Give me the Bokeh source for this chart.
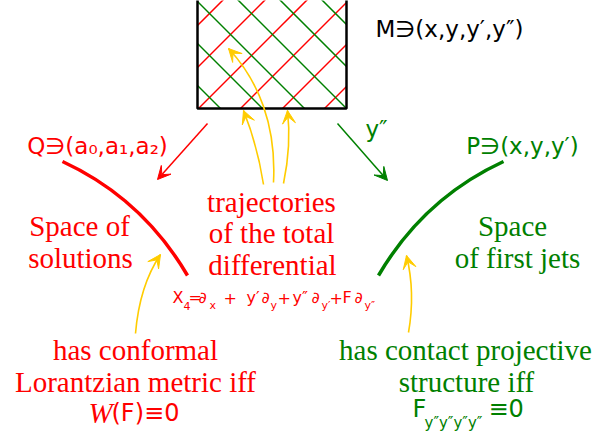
import math
from bokeh.plotting import figure
from bokeh.models import Range1d, Arrow, VeeHead
from bokeh.core.properties import value
from bokeh.embed import file_html
from bokeh.resources import INLINE

RED = "#FF0000"
GREEN = "#008000"
YELLOW = "#FFCC00"
SERIF = "Liberation Serif"
SANS = "DejaVu Sans"

# ---- diagram geometry (reference pixel coordinates, y downwards) ----
box_left, box_right, box_top, box_bottom = 197, 346, -41, 108
red_hatch_c = [180, 222, 264, 306, 348, 390, 432]     # red lines  x + y = c
green_hatch_d = [112, 154, 196, 238, 280, 322, 364]   # green lines x - y = d

# solution / jet curves (quadratic)
arc_x0 = [62, 503]
arc_y0 = [161, 161]
arc_x1 = [187, 378]
arc_y1 = [275, 275]
arc_cx = [142, 423]
arc_cy = [198, 198]
arc_colors = [RED, GREEN]

# projection arrows
proj_x0 = [207, 337]
proj_y0 = [123, 123]
proj_x1 = [157, 387]
proj_y1 = [179, 180]
proj_colors = [RED, GREEN]

# yellow pointer arrows (quadratic)
yq_x0 = [135, 408, 263, 283]
yq_y0 = [333, 332, 184, 183]
yq_x1 = [160, 406, 243, 287]
yq_y1 = [254, 255, 110, 110]
yq_cx = [139, 415, 257, 291]
yq_cy = [285, 292, 145, 145]
# yellow pointer arrow (cubic)
yc_x0, yc_y0, yc_x1, yc_y1 = 273, 182, 228, 48
yc_cx0, yc_cy0, yc_cx1, yc_cy1 = 276, 125, 258, 80

# ---- texts ----
serif_texts = ["Space of", "solutions",
               "trajectories", "of the total", "differential",
               "Space", "of first jets",
               "has conformal", "Lorantzian metric iff",
               "has contact projective", "structure iff"]
serif_x = [79, 80, 271, 271, 272, 512, 517, 135, 135, 465, 466]
serif_y = [225, 257, 201, 232, 264, 225, 257, 349, 381, 349, 381]
serif_colors = [RED, RED, RED, RED, RED, GREEN, GREEN, RED, RED, GREEN, GREEN]

sans_texts = ["M\u220b(x,y,y\u2032,y\u2033)", "Q\u220b(a\u2080,a\u2081,a\u2082)",
              "P\u220b(x,y,y\u2032)", "y\u2033"]
sans_x = [449, 97, 522, 376]
sans_y = [28, 145, 145, 128]
sans_colors = ["#000000", RED, GREEN, GREEN]

# X4 formula pieces
f_main = ["X", "=", "\u2202", "+", "y\u2032", "\u2202", "+", "y\u2033", "\u2202", "+", "F", "\u2202"]
f_main_x = [172, 188, 198, 223, 246, 261, 277, 292, 311, 329, 342, 354]
f_sub = ["4", "x", "y", "y\u2032", "y\u2033"]
f_sub_x = [183, 209, 270, 321, 364]

# bottom formulas
w_x, w_y = 88, 412
wrest_x = 111
ff_x, ff_y = 412, 408
ffsub_x, ffsub_y = 424, 422
ffeq_x = 488

p = figure(width=600, height=434, x_range=Range1d(0, 600), y_range=Range1d(434, 0),
           output_backend="svg", toolbar_location=None, min_border=0)
p.axis.visible = False
p.grid.visible = False
p.outline_line_color = None
p.background_fill_color = "white"

# hatch lines
rx0, ry0, rx1, ry1 = [], [], [], []
for c in red_hatch_c:
    xa = max(box_left, c - box_bottom)
    xb = min(box_right, c - box_top)
    rx0.append(xa); ry0.append(c - xa); rx1.append(xb); ry1.append(c - xb)
p.segment(rx0, ry0, rx1, ry1, line_color=RED, line_width=1.5)
gx0, gy0, gx1, gy1 = [], [], [], []
for d in green_hatch_d:
    xa = max(box_left, d + box_top)
    xb = min(box_right, d + box_bottom)
    gx0.append(xa); gy0.append(xa - d); gx1.append(xb); gy1.append(xb - d)
p.segment(gx0, gy0, gx1, gy1, line_color=GREEN, line_width=1.5)
p.line([box_left, box_left, box_right, box_right, box_left],
       [box_top, box_bottom, box_bottom, box_top, box_top],
       line_color="black", line_width=2.5)

# arcs
p.quadratic(x0=arc_x0, y0=arc_y0, x1=arc_x1, y1=arc_y1, cx=arc_cx, cy=arc_cy,
            line_color=arc_colors, line_width=3.5)

# projection arrows
for x0, y0, x1, y1, col in zip(proj_x0, proj_y0, proj_x1, proj_y1, proj_colors):
    p.add_layout(Arrow(x_start=x0, y_start=y0, x_end=x1, y_end=y1,
                       line_color=col, line_width=1.5,
                       end=VeeHead(size=13, fill_color=col, line_color=col)))

def head(xe, ye, tx, ty, col):
    n = math.hypot(tx, ty)
    ux, uy = tx / n, ty / n
    p.add_layout(Arrow(x_start=xe - 4 * ux, y_start=ye - 4 * uy, x_end=xe, y_end=ye,
                       line_alpha=0,
                       end=VeeHead(size=13, fill_color=col, line_color=col)))

p.quadratic(x0=yq_x0, y0=yq_y0, x1=yq_x1, y1=yq_y1, cx=yq_cx, cy=yq_cy,
            line_color=YELLOW, line_width=1.6)
for x1, y1, cx, cy in zip(yq_x1, yq_y1, yq_cx, yq_cy):
    head(x1, y1, x1 - cx, y1 - cy, YELLOW)
p.bezier(x0=[yc_x0], y0=[yc_y0], x1=[yc_x1], y1=[yc_y1], cx0=[yc_cx0], cy0=[yc_cy0],
         cx1=[yc_cx1], cy1=[yc_cy1], line_color=YELLOW, line_width=1.6)
head(yc_x1, yc_y1, yc_x1 - yc_cx1, yc_y1 - yc_cy1, YELLOW)

# texts
p.text(x=serif_x, y=serif_y, text=serif_texts, text_color=serif_colors,
       text_font=value(SERIF), text_font_size="29px",
       text_align="center", text_baseline="middle")
p.text(x=sans_x, y=sans_y, text=sans_texts, text_color=sans_colors,
       text_font=value(SANS), text_font_size="23px",
       text_align="center", text_baseline="middle")

p.text(x=f_main_x, y=[297] * len(f_main), text=f_main, text_color=RED,
       text_font=value(SANS), text_font_size="16px",
       text_align="left", text_baseline="middle")
p.text(x=f_sub_x, y=[305] * len(f_sub), text=f_sub, text_color=RED,
       text_font=value(SANS), text_font_size="11px",
       text_align="left", text_baseline="middle")

p.text(x=[w_x], y=[w_y], text=["W"], text_color=RED, text_font=value(SERIF),
       text_font_style="italic", text_font_size="29px",
       text_align="left", text_baseline="middle")
p.text(x=[wrest_x], y=[w_y], text=["(F)\u22610"], text_color=RED, text_font=value(SANS),
       text_font_size="24px", text_align="left", text_baseline="middle")

p.text(x=[ff_x], y=[ff_y], text=["F"], text_color=GREEN, text_font=value(SANS),
       text_font_size="24px", text_align="left", text_baseline="middle")
p.text(x=[ffsub_x], y=[ffsub_y], text=["y\u2033y\u2033y\u2033y\u2033"], text_color=GREEN,
       text_font=value(SANS), text_font_size="15px", text_align="left", text_baseline="middle")
p.text(x=[ffeq_x], y=[ff_y], text=["\u22610"], text_color=GREEN, text_font=value(SANS),
       text_font_size="24px", text_align="left", text_baseline="middle")

open("out.html", "w").write(file_html(p, INLINE))
